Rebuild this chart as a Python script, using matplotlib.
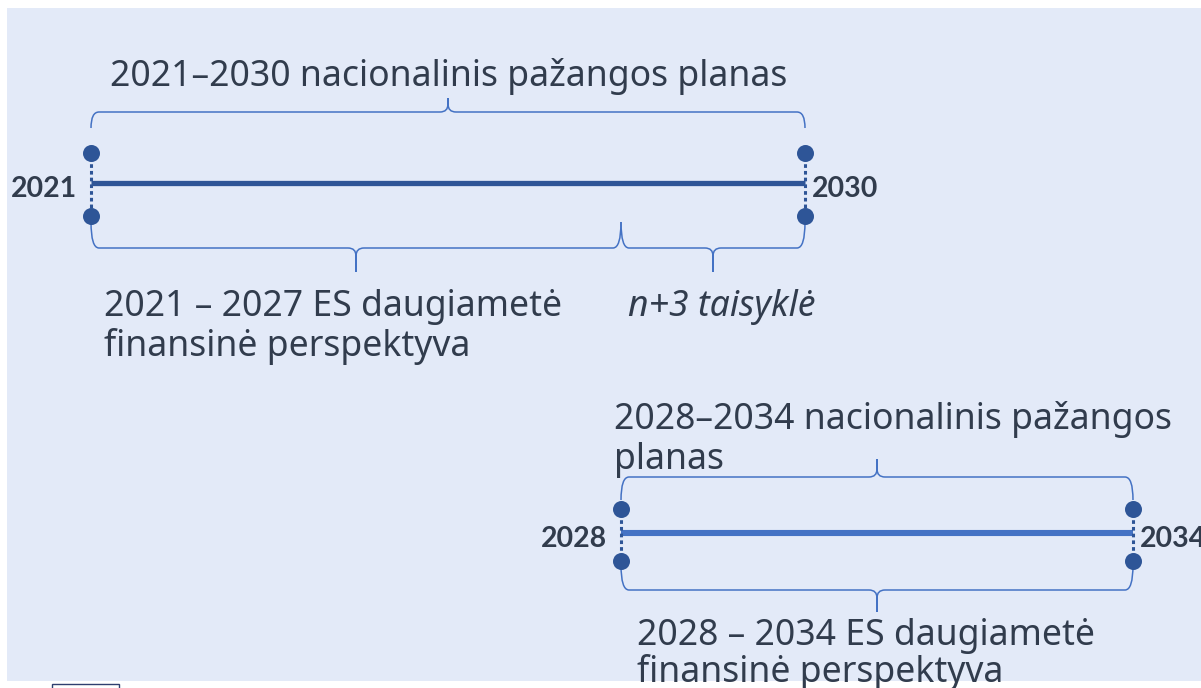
import matplotlib
matplotlib.use("Agg")
import matplotlib.pyplot as plt
from matplotlib.path import Path
from matplotlib.patches import PathPatch, Rectangle

plt.rcParams['font.family'] = ['Noto Sans', 'DejaVu Sans']

# data
start_years = [2021, 2028]
end_years = [2030, 2034]
plan_labels = ["2021–2030 nacionalinis pažangos planas",
               "2028–2034 nacionalinis pažangos\nplanas"]
mff_labels = ["2021 – 2027 ES daugiametė\nfinansinė perspektyva",
              "2028 – 2034 ES daugiametė\nfinansinė perspektyva"]
rule_label = "n+3 taisyklė"

# layout (pixels), one row per timeline
x_start = [91, 621]
x_end = [805, 1133]
y_line = [183, 533]
line_cols = ["#2F5597", "#4472C4"]
line_w = [3.8, 4.4]

dark = "#2E5597"
brace_col = "#4472C4"
txt_col = "#313C4D"
FS = 25.6


def brace(ax, x0, x1, y_end, y_mid, y_tip, xc=None, r=8):
    if xc is None:
        xc = (x0 + x1) / 2
    s = 1 if y_tip > y_mid else -1
    verts = [(x0, y_end), (x0, y_mid), (x0 + r, y_mid),
             (xc - r, y_mid), (xc, y_mid), (xc, y_mid + s * r), (xc, y_tip),
             (xc, y_mid + s * r), (xc, y_mid), (xc + r, y_mid),
             (x1 - r, y_mid), (x1, y_mid), (x1, y_end)]
    codes = [Path.MOVETO, Path.CURVE3, Path.CURVE3,
             Path.LINETO, Path.CURVE3, Path.CURVE3, Path.LINETO,
             Path.LINETO, Path.CURVE3, Path.CURVE3,
             Path.LINETO, Path.CURVE3, Path.CURVE3]
    ax.add_patch(PathPatch(Path(verts, codes), fill=False, ec=brace_col, lw=1.1))


def lines(ax, x, baselines, label, **kw):
    for y, s in zip(baselines, label.split("\n")):
        ax.text(x, y, s, ha='left', va='baseline', fontsize=FS, color=txt_col, **kw)


fig = plt.figure(figsize=(12.01, 6.88), dpi=100)
ax = fig.add_axes([0, 0, 1, 1])
ax.set_xlim(0, 1201)
ax.set_ylim(688, 0)
ax.axis('off')

ax.add_patch(Rectangle((7, 8), 1200, 673, fc="#E3EAF8", ec="none", zorder=0))
ax.add_patch(Rectangle((52, 684), 67, 10, fc="white", ec="#2F3F6F", lw=1, zorder=0))

for i in range(2):
    xs, xe, yl = x_start[i], x_end[i], y_line[i]
    ax.plot([xs, xe], [yl, yl], color=line_cols[i], lw=line_w[i], solid_capstyle='butt', zorder=2)
    dots = [yl - 30, yl + 33] if i == 0 else [yl - 24, yl + 28]
    for x in (xs, xe):
        ax.plot([x, x], [dots[0] + 4, dots[1] - 4], color=dark, lw=2.2, ls=(0, (1.2, 1.0)), zorder=3)
        ax.scatter([x, x], dots, s=150, color=dark, zorder=4, lw=0)
    ax.text(xs - 14, yl + 14, str(start_years[i]), ha='right', va='baseline',
            fontsize=20.5, fontweight='bold', color=txt_col, family=['Lato', 'DejaVu Sans'])
    ax.text(xe + 7, yl + 14, str(end_years[i]), ha='left', va='baseline',
            fontsize=20.5, fontweight='bold', color=txt_col, family=['Lato', 'DejaVu Sans'])

# timeline 1 braces
brace(ax, 91, 805, 128, 112, 98)
brace(ax, 91, 621, 222, 248, 272)
brace(ax, 621, 805, 222, 248, 272)
# timeline 2 braces
brace(ax, 621, 1133, 500, 477, 459)
brace(ax, 621, 1133, 565, 590, 612)

lines(ax, 110, [86], plan_labels[0])
lines(ax, 104, [316, 356], mff_labels[0])
lines(ax, 628, [316], rule_label, style='italic')
lines(ax, 614, [429, 469], plan_labels[1])
lines(ax, 637, [645, 682], mff_labels[1])

fig.savefig("out.png", dpi=100)
